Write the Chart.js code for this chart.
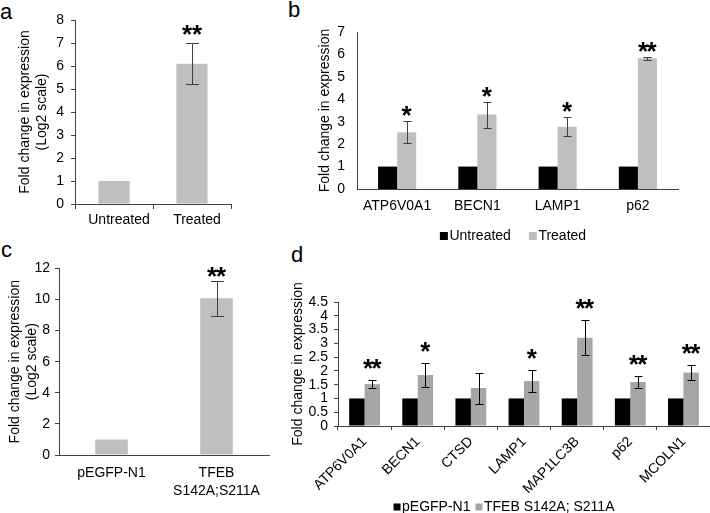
<!DOCTYPE html>
<html>
<head>
<meta charset="utf-8">
<script src="https://cdn.jsdelivr.net/npm/chart.js@4.4.1/dist/chart.umd.min.js"></script>
<style>
  body { margin: 0; background: #fff; width: 710px; height: 513px; position: relative; overflow: hidden;
         font-family: "Liberation Sans", Arial, sans-serif; }
  .panel { position: absolute; }
  .letter { position: absolute; font-size: 22px; line-height: 22px; color: #000; }
</style>
</head>
<body>
<div class="letter" style="left:0px;top:1px">a</div>
<div class="letter" style="left:288px;top:-1px">b</div>
<div class="letter" style="left:1px;top:239px">c</div>
<div class="letter" style="left:291px;top:244px">d</div>

<div class="panel" style="left:0px;top:0px;width:250px;height:245px"><canvas id="chartA"></canvas></div>
<div class="panel" style="left:300px;top:0px;width:410px;height:250px"><canvas id="chartB"></canvas></div>
<div class="panel" style="left:0px;top:255px;width:280px;height:258px"><canvas id="chartC"></canvas></div>
<div class="panel" style="left:285px;top:250px;width:425px;height:263px"><canvas id="chartD"></canvas></div>

<script>
// panel a - log2 fold change, untreated vs treated
const catsA = ['Untreated', 'Treated'];
const valsA = [1, 6.1];
const errLoA = [null, 5.22];
const errHiA = [null, 6.98];
const starsA = ['', '**'];
const ticksA = [0, 1, 2, 3, 4, 5, 6, 7, 8];

// panel b - autophagy genes, untreated vs treated
const catsB = ['ATP6V0A1', 'BECN1', 'LAMP1', 'p62'];
const untreatedB = [1, 1, 1, 1];
const treatedB = [2.53, 3.32, 2.77, 5.83];
const errLoTreatedB = [2.04, 2.72, 2.37, 5.75];
const errHiTreatedB = [3.05, 3.9, 3.2, 5.9];
const starsB = ['*', '*', '*', '**'];
const ticksB = [0, 1, 2, 3, 4, 5, 6, 7];

// panel c - TFEB overexpression
const catsC = ['pEGFP-N1', ['TFEB', 'S142A;S211A']];
const valsC = [1, 10.08];
const errLoC = [null, 8.93];
const errHiC = [null, 11.2];
const starsC = ['', '**'];
const ticksC = [0, 2, 4, 6, 8, 10, 12];

// panel d - target genes after TFEB mutant
const catsD = ['ATP6V0A1', 'BECN1', 'CTSD', 'LAMP1', 'MAP1LC3B', 'p62', 'MCOLN1'];
const controlD = [1, 1, 1, 1, 1, 1, 1];
const tfebD = [1.52, 1.85, 1.38, 1.63, 3.2, 1.6, 1.94];
const errLoD = [1.38, 1.43, 0.81, 1.23, 2.59, 1.38, 1.67];
const errHiD = [1.68, 2.28, 1.94, 2.03, 3.83, 1.83, 2.2];
const starsD = ['**', '*', '', '*', '**', '**', '**'];
const ticksD = [0, 0.5, 1, 1.5, 2, 2.5, 3, 3.5, 4, 4.5];

const axisColor = '#404040';
Chart.defaults.font.family = '"Liberation Sans", Arial, sans-serif';
Chart.defaults.font.size = 14;
Chart.defaults.color = '#000';

// error bars + significance stars on one dataset
const errorBarPlugin = {
    id: 'errorBars',
    afterDatasetsDraw(chart, args, opts) {
        const ctx = chart.ctx;
        const yScale = chart.scales.y;
        const meta = chart.getDatasetMeta(opts.dataset);
        ctx.save();
        ctx.strokeStyle = opts.color;
        ctx.lineWidth = 1;
        ctx.font = 'bold ' + opts.starSize + 'px "Liberation Sans", Arial, sans-serif';
        ctx.fillStyle = '#000';
        ctx.textAlign = 'center';
        ctx.textBaseline = 'alphabetic';
        const m = ctx.measureText('*');
        const starShift = (m.actualBoundingBoxAscent - m.actualBoundingBoxDescent) / 2;
        meta.data.forEach((bar, i) => {
            const lo = opts.low[i], hi = opts.high[i];
            if (lo == null) return;
            const x = Math.round(bar.x) + 0.5;
            const yHi = Math.round(yScale.getPixelForValue(hi)) + 0.5;
            const yLo = Math.round(yScale.getPixelForValue(lo)) + 0.5;
            const c = opts.cap / 2;
            ctx.beginPath();
            ctx.moveTo(x, yHi); ctx.lineTo(x, yLo);
            ctx.moveTo(x - c, yHi); ctx.lineTo(x + c, yHi);
            ctx.moveTo(x - c, yLo); ctx.lineTo(x + c, yLo);
            ctx.stroke();
            const s = opts.stars[i];
            if (!s) return;
            const yc = yHi - opts.starGap;
            for (let k = 0; k < s.length; k++) {
                const sx = bar.x + (k - (s.length - 1) / 2) * opts.starSpacing;
                ctx.fillText('*', sx, yc + starShift);
            }
        });
        ctx.restore();
    }
};

// small legend: square + label, tight like the original figure
const boxLegendPlugin = {
    id: 'boxLegend',
    afterDraw(chart, args, opts) {
        if (!opts.show) return;
        const ctx = chart.ctx;
        ctx.save();
        ctx.font = '14px "Liberation Sans", Arial, sans-serif';
        ctx.textBaseline = 'alphabetic';
        ctx.textAlign = 'left';
        const items = chart.data.datasets.map(ds => ({ label: ds.label, color: ds.backgroundColor, w: ctx.measureText(ds.label).width }));
        let total = 0;
        items.forEach((it, i) => { total += opts.box + opts.textGap + it.w + (i ? opts.itemGap : 0); });
        let x = opts.cx - total / 2;
        items.forEach((it, i) => {
            if (i) x += opts.itemGap;
            ctx.fillStyle = it.color;
            ctx.fillRect(x, opts.baseline - opts.box, opts.box, opts.box);
            x += opts.box + opts.textGap;
            ctx.fillStyle = '#000';
            ctx.fillText(it.label, x, opts.baseline);
            x += it.w;
        });
        ctx.restore();
    }
};

function yAxis(ticks, title, o) {
    return {
        min: ticks[0],
        max: ticks[ticks.length - 1],
        afterBuildTicks: s => { s.ticks = ticks.map(v => ({ value: v })); },
        afterFit: s => { s.width = o.width; },
        border: { display: true, color: axisColor },
        grid: { display: o.tick > 0, drawOnChartArea: false, drawTicks: o.tick > 0, tickLength: o.tick, color: axisColor },
        ticks: { padding: o.pad, autoSkip: false, callback: v => String(v) },
        title: { display: true, text: title, font: { size: 14, lineHeight: 1.2 }, padding: { top: o.titlePad, bottom: 0 } }
    };
}

function xAxis(o) {
    return {
        afterFit: s => { s.height = o.height; },
        border: { display: true, color: axisColor },
        grid: { display: o.tick > 0, offset: true, drawOnChartArea: false, drawTicks: o.tick > 0, tickLength: o.tick, color: axisColor },
        ticks: { padding: o.pad, autoSkip: false, labelOffset: o.shift || 0, maxRotation: o.rot, minRotation: o.rot, font: { size: 14, lineHeight: 1.3 } }
    };
}

function makeChart(id, cfg) {
    return new Chart(document.getElementById(id), {
        type: 'bar',
        data: { labels: cfg.labels, datasets: cfg.datasets },
        options: {
            responsive: true,
            maintainAspectRatio: false,
            animation: false,
            layout: { padding: cfg.padding },
            scales: { x: cfg.x, y: cfg.y },
            plugins: {
                legend: { display: false },
                tooltip: { enabled: false },
                errorBars: cfg.errors,
                boxLegend: cfg.legend || { show: false }
            }
        },
        plugins: [errorBarPlugin, boxLegendPlugin]
    });
}

document.addEventListener('DOMContentLoaded', () => {
    makeChart('chartA', {
        labels: catsA,
        datasets: [{ label: 'Fold change', data: valsA, backgroundColor: '#bfbfbf', borderWidth: 0, categoryPercentage: 0.4, barPercentage: 1 }],
        padding: { top: 20, right: 19, left: 0, bottom: 0 },
        x: xAxis({ height: 41, tick: 5, pad: 2, rot: 0, shift: 5 }),
        y: yAxis(ticksA, ['Fold change in expression', '(Log2 scale)'], { width: 75, tick: 4, pad: 7, titlePad: 17 }),
        errors: { dataset: 0, low: errLoA, high: errHiA, color: '#404040', cap: 13, stars: starsA, starGap: 14, starSize: 26, starSpacing: 10 }
    });

    makeChart('chartB', {
        labels: catsB,
        datasets: [
            { label: 'Untreated', data: untreatedB, backgroundColor: '#000000', borderWidth: 0, categoryPercentage: 0.475, barPercentage: 1 },
            { label: 'Treated', data: treatedB, backgroundColor: '#bfbfbf', borderWidth: 0, categoryPercentage: 0.475, barPercentage: 1 }
        ],
        padding: { top: 32, right: 32, left: 0, bottom: 0 },
        x: xAxis({ height: 61, tick: 0, pad: 8, rot: 0 }),
        y: yAxis(ticksB, 'Fold change in expression', { width: 57, tick: 0, pad: 12, titlePad: 17 }),
        errors: { dataset: 1, low: errLoTreatedB, high: errHiTreatedB, color: '#404040', cap: 8, stars: starsB, starGap: 10.5, starSize: 26, starSpacing: 8.5 },
        legend: { show: true, cx: 213, baseline: 240, box: 8, textGap: 1.5, itemGap: 18 }
    });

    makeChart('chartC', {
        labels: catsC,
        datasets: [{ label: 'Fold change', data: valsC, backgroundColor: '#bfbfbf', borderWidth: 0, categoryPercentage: 0.31, barPercentage: 1 }],
        padding: { top: 13, right: 11, left: 0, bottom: 0 },
        x: xAxis({ height: 58, tick: 0, pad: 9, rot: 0 }),
        y: yAxis(ticksC, ['Fold change in expression', '(Log2 scale)'], { width: 59, tick: 4, pad: 5, titlePad: 7 }),
        errors: { dataset: 0, low: errLoC, high: errHiC, color: '#404040', cap: 13, stars: starsC, starGap: 10, starSize: 26, starSpacing: 9 }
    });

    makeChart('chartD', {
        labels: catsD,
        datasets: [
            { label: 'pEGFP-N1', data: controlD, backgroundColor: '#000000', borderWidth: 0, categoryPercentage: 0.58, barPercentage: 1 },
            { label: 'TFEB S142A; S211A', data: tfebD, backgroundColor: '#a6a6a6', borderWidth: 0, categoryPercentage: 0.58, barPercentage: 1 }
        ],
        padding: { top: 52, right: 0, left: 0, bottom: 0 },
        x: xAxis({ height: 87, tick: 4, pad: 3, rot: 45 }),
        y: yAxis(ticksD, 'Fold change in expression', { width: 53, tick: 4, pad: 6, titlePad: 5 }),
        errors: { dataset: 1, low: errLoD, high: errHiD, color: '#000000', cap: 8, stars: starsD, starGap: 17, starSize: 26, starSpacing: 8.5 },
        legend: { show: true, cx: 219, baseline: 260.5, box: 7, textGap: 1.5, itemGap: 5 }
    });
});
</script>
</body>
</html>
